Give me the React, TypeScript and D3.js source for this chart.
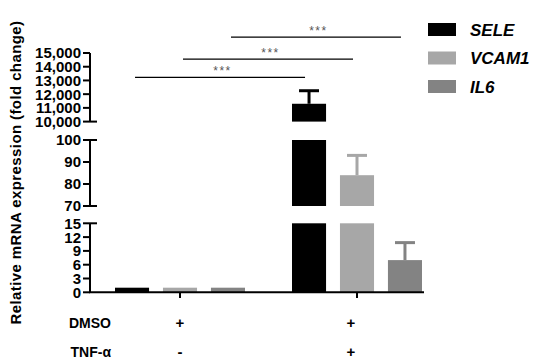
import * as d3 from "d3";

// chart data
const groups = ["DMSO", "TNF"];
const genes = ["SELE", "VCAM1", "IL6"];
const dmsoMeans = [1, 1, 1];
const tnfMeans = [11300, 84, 7];
const tnfErrors = [950, 9, 3.8];
const dmsoErrors = [0, 0, 0];
const colors = ["#000000", "#a7a7a7", "#838383"];

// broken y axis pieces
const lowTicks = [0, 3, 6, 9, 12, 15];
const midTicks = [70, 80, 90, 100];
const highTicks = [10000, 11000, 12000, 13000, 14000, 15000];

// significance brackets (gene index, height in top-segment units)
const brackets = [
  { gene: 0, level: 13230, label: "***" },
  { gene: 1, level: 14550, label: "***" },
  { gene: 2, level: 16150, label: "***" },
];

const rowLabels = ["DMSO", "TNF-\u03b1"];
const dmsoSigns = ["+", "+"];
const tnfSigns = ["-", "+"];

const W = 534;
const H = 364;
const axisX = 90;
const font = "'Liberation Sans', Arial, sans-serif";

export default function App() {
  const segments = [
    { ticks: lowTicks, y: d3.scaleLinear().domain([0, 15]).range([292.3, 223.3]), fmt: d3.format("d"), breakTop: true, breakBottom: false },
    { ticks: midTicks, y: d3.scaleLinear().domain([70, 100]).range([206, 140]), fmt: d3.format("d"), breakTop: true, breakBottom: true },
    { ticks: highTicks, y: d3.scaleLinear().domain([10000, 15000]).range([121.6, 53]), fmt: d3.format(","), breakTop: false, breakBottom: true },
  ];

  const x0 = d3.scalePoint<string>().domain(groups).range([91.5, 445.5]).padding(0.5);
  const x1 = d3.scaleBand<string>().domain(genes).range([-65, 65]).paddingInner(0.29).paddingOuter(0);
  const bw = x1.bandwidth();

  const bars = groups.flatMap((g, gi) =>
    genes.map((gene, i) => ({
      group: g,
      gene,
      i,
      value: gi === 0 ? dmsoMeans[i] : tnfMeans[i],
      err: gi === 0 ? dmsoErrors[i] : tnfErrors[i],
    }))
  );

  const segFor = (v: number) =>
    segments.find((s) => v >= s.y.domain()[0] && v <= s.y.domain()[1]) || segments[0];

  const cx = (g: string, gene: string) => (x0(g) as number) + (x1(gene) as number) + bw / 2;
  const top = segments[2].y;

  return (
    <svg width={W} height={H} style={{ position: "absolute", left: 0, top: 0, background: "#fff" }} fontFamily={font}>
      {/* y axis title */}
      <text
        transform={`translate(21,172.5) rotate(-90)`}
        textAnchor="middle"
        fontSize={15}
        fontWeight="bold"
        letterSpacing={0.4}
      >
        Relative mRNA expression (fold change)
      </text>

      {/* bars, cut into the axis segments */}
      {bars.map((b) =>
        segments.map((s, si) => {
          const [lo, hi] = s.y.domain();
          if (b.value <= lo) return null;
          const yt = s.y(Math.min(b.value, hi));
          const yb = s.y(lo);
          return (
            <rect
              key={`${b.group}-${b.gene}-${si}`}
              x={cx(b.group, b.gene) - bw / 2}
              y={yt}
              width={bw}
              height={yb - yt}
              fill={colors[b.i]}
            />
          );
        })
      )}

      {/* error bars */}
      {bars
        .filter((b) => b.err > 0)
        .map((b) => {
          const s = segFor(b.value);
          const c = cx(b.group, b.gene);
          const y1 = s.y(b.value);
          const y2 = s.y(b.value + b.err);
          return (
            <g key={`err-${b.group}-${b.gene}`} stroke={colors[b.i]}>
              <line x1={c} x2={c} y1={y1} y2={y2} strokeWidth={3} />
              <line x1={c - 10} x2={c + 10} y1={y2} y2={y2} strokeWidth={3} />
            </g>
          );
        })}

      {/* y axis segments */}
      {segments.map((s, si) => {
        const [lo, hi] = s.y.domain();
        return (
          <g key={`seg-${si}`}>
            <line x1={axisX} x2={axisX} y1={s.y(lo)} y2={s.y(hi)} stroke="#000" strokeWidth={2} />
            {s.ticks.map((t) => {
              const ext = (t === lo && s.breakBottom) || (t === hi && s.breakTop);
              return (
                <g key={t}>
                  <line x1={axisX - 7} x2={axisX + (ext ? 7 : 0)} y1={s.y(t)} y2={s.y(t)} stroke="#000" strokeWidth={2} />
                  <text x={axisX - 9} y={s.y(t)} dy="0.36em" textAnchor="end" fontSize={15} fontWeight="bold">
                    {s.fmt(t)}
                  </text>
                </g>
              );
            })}
          </g>
        );
      })}

      {/* x axis */}
      <line x1={axisX - 1} x2={424} y1={segments[0].y(0)} y2={segments[0].y(0)} stroke="#000" strokeWidth={2} />
      {groups.map((g) => (
        <line key={g} x1={x0(g)} x2={x0(g)} y1={292} y2={298} stroke="#000" strokeWidth={2} />
      ))}

      {/* significance brackets */}
      {brackets.map((br, k) => {
        const xa = cx(groups[0], genes[br.gene]);
        const xb = cx(groups[1], genes[br.gene]);
        const y = top(br.level);
        return (
          <g key={`br-${k}`}>
            <line x1={xa + 3} x2={xb - 4} y1={y} y2={y} stroke="#000" strokeWidth={1.3} />
            <text x={(xa + xb) / 2 + 2} y={y - 2} textAnchor="middle" fontSize={12} fill="#555" letterSpacing={1.5}>
              {br.label}
            </text>
          </g>
        );
      })}

      {/* legend */}
      {genes.map((gene, i) => (
        <g key={`lg-${gene}`} transform={`translate(428,${23 + i * 28.5})`}>
          <rect width={28} height={13} fill={colors[i]} />
          <text x={42} y={12.5} fontSize={17} fontWeight="bold" fontStyle="italic">
            {gene}
          </text>
        </g>
      ))}

      {/* treatment table */}
      {rowLabels.map((r, ri) => {
        const y = 327.5 + ri * 29.5;
        const signs = ri === 0 ? dmsoSigns : tnfSigns;
        return (
          <g key={`row-${ri}`}>
            <text x={111} y={y} textAnchor="end" fontSize={14} fontWeight="bold">
              {r}
            </text>
            {groups.map((g, gi) => (
              <text key={g} x={(x0(g) as number) - gi * 6} y={y} textAnchor="middle" fontSize={15} fontWeight="bold">
                {signs[gi]}
              </text>
            ))}
          </g>
        );
      })}
    </svg>
  );
}
